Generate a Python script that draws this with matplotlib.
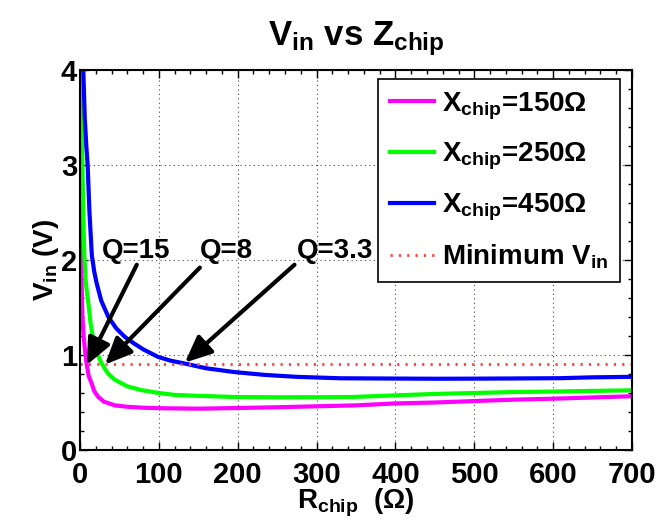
import matplotlib
matplotlib.use('Agg')
import matplotlib.pyplot as plt
import numpy as np
from matplotlib.ticker import MultipleLocator

plt.rcParams['font.family'] = ['Liberation Sans', 'DejaVu Sans']
plt.rcParams['font.weight'] = 'bold'
plt.rcParams['mathtext.fontset'] = 'custom'
plt.rcParams['mathtext.rm'] = 'Liberation Sans:bold'
plt.rcParams['mathtext.it'] = 'Liberation Sans:bold'
plt.rcParams['mathtext.bf'] = 'Liberation Sans:bold'

# chip resistance (ohm) / input voltage (V) for each chip reactance
r_150 = [0.5, 1, 2, 3, 4.5, 6.3, 8.5, 11, 14.8, 18, 23, 30, 44, 60, 80, 100, 150, 200,
         250, 300, 350, 400, 450, 500, 550, 600, 650, 700]
v_150 = [4.5, 2.6, 1.8, 1.42, 1.2, 1.05, 0.9, 0.78, 0.70, 0.62, 0.56, 0.51, 0.47, 0.455, 0.445,
         0.44, 0.435, 0.442, 0.45, 0.46, 0.47, 0.49, 0.50, 0.515, 0.53, 0.54, 0.553, 0.566]

r_250 = [1.0, 1.3, 2, 3, 4.2, 5.5, 7, 8.5, 10.5, 13.5, 17, 22, 27.5, 35, 44, 60, 78, 100, 120,
         150, 196, 250, 300, 346, 400, 450, 500, 550, 600, 650, 700]
v_250 = [4.6, 4.0, 3.45, 3.0, 2.45, 2.05, 1.8, 1.68, 1.55, 1.33, 1.16, 1.01, 0.91, 0.81, 0.74,
         0.67, 0.63, 0.6, 0.58, 0.57, 0.558, 0.555, 0.556, 0.558, 0.575, 0.59, 0.60, 0.61,
         0.615, 0.622, 0.628]

r_450 = [3.8, 4.2, 6, 8, 9.7, 12, 15, 18, 21, 27, 36, 46, 57, 67, 80, 99, 115, 133, 160, 196,
         235, 275, 330, 400, 450, 500, 550, 610, 650, 700]
v_450 = [4.4, 4.0, 3.5, 3.2, 3.0, 2.5, 2.05, 1.88, 1.76, 1.57, 1.40, 1.28, 1.19, 1.13, 1.06,
         0.98, 0.94, 0.91, 0.86, 0.82, 0.79, 0.77, 0.755, 0.752, 0.75, 0.751, 0.753, 0.756,
         0.765, 0.77]

r_min = [0, 700]
v_min = [0.9, 0.9]

# quality-factor callouts: label, text position, arrow tail, arrow tip
q_labels = ['Q=15', 'Q=8', 'Q=3.3']
q_text = [(28, 2.02), (152, 2.02), (275, 2.02)]
q_tail = [(72, 1.95), (152, 1.92), (272, 1.95)]
q_tip = [(8.5, 0.895), (31.7, 0.9), (133, 0.92)]

fig = plt.figure(figsize=(6.59, 5.26), dpi=100)
ax = fig.add_axes([0.1214, 0.1445, 0.8376, 0.7224])

ax.plot(r_150, v_150, color='#ff00ff', lw=3, label='X$_{chip}$=150Ω')
ax.plot(r_250, v_250, color='#00ff00', lw=3, label='X$_{chip}$=250Ω')
ax.plot(r_450, v_450, color='#0000ff', lw=3, label='X$_{chip}$=450Ω')
ax.plot(r_min, v_min, color='#ff4040', lw=2, ls=(0, (0.8, 2.2)), label='Minimum V$_{in}$')

for lab, tpos, tail, tip in zip(q_labels, q_text, q_tail, q_tip):
    ax.text(tpos[0], tpos[1], lab, fontsize=20, fontweight='bold', va='baseline', ha='left')
    ax.annotate('', xy=tip, xytext=tail,
                arrowprops=dict(arrowstyle='-|>,head_length=0.9,head_width=0.4',
                                lw=3, color='k', shrinkA=0, shrinkB=0,
                                mutation_scale=18))

ax.set_xlim(0, 700)
ax.set_ylim(0, 4)
ax.xaxis.set_major_locator(MultipleLocator(100))
ax.xaxis.set_minor_locator(MultipleLocator(20))
ax.yaxis.set_major_locator(MultipleLocator(1))
ax.yaxis.set_minor_locator(MultipleLocator(0.2))
ax.tick_params(which='both', direction='in', top=True, right=True, width=1)
ax.tick_params(which='major', length=6, labelsize=21)
ax.tick_params(which='minor', length=3)
ax.tick_params(axis='x', which='major', pad=8)
ax.tick_params(axis='y', which='major', pad=2)
for lab in ax.get_xticklabels() + ax.get_yticklabels():
    lab.set_fontweight('bold')
for sp in ax.spines.values():
    sp.set_linewidth(1.5)

ax.grid(True, which='major', ls=(0, (1, 3)), color='k', lw=0.8, alpha=0.7)

ax.set_title('V$_{in}$ vs Z$_{chip}$', fontsize=25, fontweight='bold', pad=18)
ax.set_xlabel('R$_{chip}$  (Ω)', fontsize=20, fontweight='bold', labelpad=-2)
ax.set_ylabel('V$_{in}$ (V)', fontsize=20, fontweight='bold', labelpad=0)

leg = ax.legend(loc='upper right', bbox_to_anchor=(0.978, 0.976), borderaxespad=0,
                fontsize=20, handlelength=1.6, handletextpad=0.3, labelspacing=0.7,
                borderpad=0.4, fancybox=False, framealpha=1, edgecolor='k')
leg.get_frame().set_linewidth(1.2)

fig.savefig('out.png', dpi=100)
